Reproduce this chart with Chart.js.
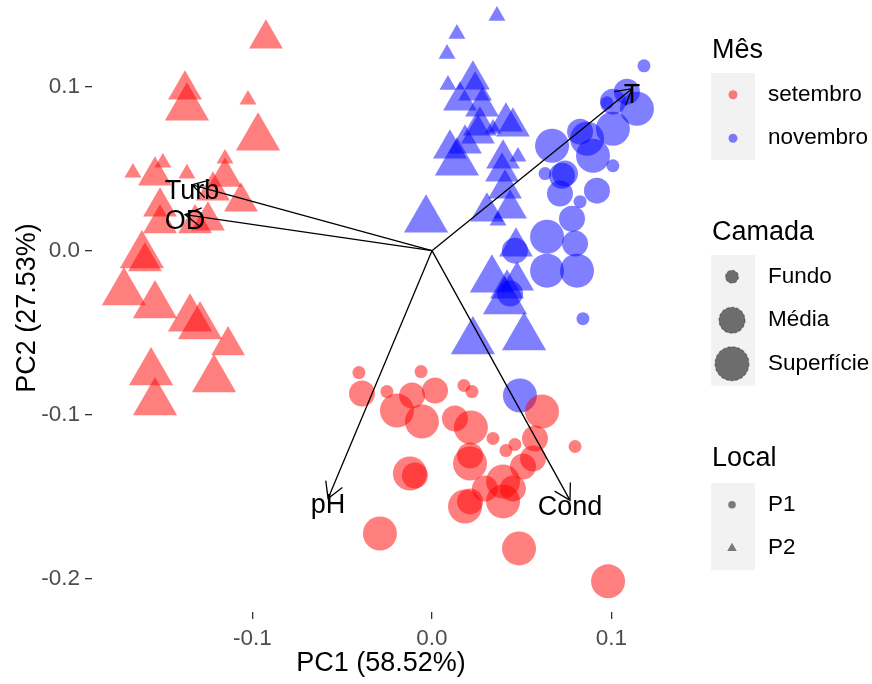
<!DOCTYPE html>
<html>
<head>
<meta charset="utf-8">
<title>PCA biplot</title>
<script src="https://cdn.jsdelivr.net/npm/chart.js@4.4.1/dist/chart.umd.min.js"></script>
<style>
  html, body { margin: 0; padding: 0; background: #ffffff; }
</style>
</head>
<body>
<canvas id="pca" width="872" height="684"></canvas>
<script>
// factor levels
const mesLevels = ["setembro", "novembro"];
const camadaLevels = ["Fundo", "Média", "Superfície"];
const localLevels = ["P1", "P2"];

// scores: [PC1, PC2, camada index]
const setembroP1 = [
  [-0.0407, -0.0744, 0], [-0.0390, -0.0872, 1], [-0.0251, -0.0860, 0], [-0.0195, -0.0976, 2],
  [-0.0111, -0.0884, 1], [-0.0056, -0.1043, 2], [0.0017, -0.0854, 1], [-0.0061, -0.0738, 0],
  [0.0178, -0.0823, 0], [0.0223, -0.0860, 0], [0.0128, -0.1024, 1], [0.0217, -0.1079, 2],
  [0.0340, -0.1146, 0], [0.0412, -0.1220, 0], [0.0462, -0.1183, 0], [0.0574, -0.1146, 1],
  [0.0613, -0.0982, 2], [0.0797, -0.1195, 0], [0.0212, -0.1250, 1], [-0.0123, -0.1360, 2],
  [-0.0095, -0.1372, 1], [0.0212, -0.1299, 2], [0.0563, -0.1268, 1], [0.0396, -0.1409, 2],
  [0.0451, -0.1451, 1], [0.0295, -0.1451, 1], [0.0212, -0.1530, 1], [0.0184, -0.1561, 2],
  [0.0396, -0.1530, 2], [-0.0290, -0.1726, 2], [0.0485, -0.1817, 2], [0.0981, -0.2018, 2],
  [0.0507, -0.1317, 1]
];
const setembroP2 = [
  [-0.0925, 0.1293, 1], [-0.1376, 0.0982, 1], [-0.1365, 0.0872, 2], [-0.1025, 0.0921, 0],
  [-0.0969, 0.0689, 2], [-0.1666, 0.0476, 0], [-0.1543, 0.0457, 1], [-0.1499, 0.0537, 0],
  [-0.1365, 0.0470, 0], [-0.1153, 0.0561, 0], [-0.1153, 0.0450, 1], [-0.1064, 0.0299, 1],
  [-0.1220, 0.0366, 1], [-0.1248, 0.0183, 1], [-0.1515, 0.0268, 1], [-0.1515, 0.0165, 1],
  [-0.1320, 0.0165, 1], [-0.1616, -0.0030, 2], [-0.1599, -0.0067, 1], [-0.1716, -0.0256, 2],
  [-0.1543, -0.0335, 2], [-0.1348, -0.0415, 2], [-0.1292, -0.0463, 2], [-0.1136, -0.0579, 1],
  [-0.1214, -0.0787, 2], [-0.1565, -0.0744, 2], [-0.1543, -0.0927, 2]
];
const novembroP1 = [
  [0.1181, 0.1128, 0], [0.1086, 0.0970, 1], [0.1142, 0.0866, 2], [0.1008, 0.0909, 1],
  [0.0975, 0.0902, 0], [0.1008, 0.0744, 2], [0.0864, 0.0683, 2], [0.0825, 0.0726, 1],
  [0.0669, 0.0640, 2], [0.0897, 0.0579, 2], [0.1008, 0.0518, 0], [0.0741, 0.0470, 1],
  [0.0724, 0.0457, 1], [0.0630, 0.0470, 0], [0.0919, 0.0366, 1], [0.0713, 0.0348, 1],
  [0.0825, 0.0299, 0], [0.0780, 0.0195, 1], [0.0641, 0.0085, 2], [0.0797, 0.0043, 1],
  [0.0641, -0.0122, 2], [0.0808, -0.0122, 2], [0.0841, -0.0415, 0], [0.0490, -0.0884, 2],
  [0.0462, 0.0000, 1], [0.0435, -0.0262, 1]
];
const novembroP2 = [
  [0.0362, 0.1433, 0], [0.0139, 0.1323, 0], [0.0084, 0.1201, 0], [0.0228, 0.1043, 1],
  [0.0089, 0.1012, 0], [0.0240, 0.0976, 1], [0.0156, 0.0915, 1], [0.0267, 0.0762, 1],
  [0.0412, 0.0787, 1], [0.0451, 0.0756, 1], [0.0139, 0.0537, 2], [0.0100, 0.0622, 1],
  [0.0184, 0.0652, 1], [0.0256, 0.0713, 1], [0.0340, 0.0744, 0], [0.0396, 0.0561, 1],
  [0.0390, 0.0482, 1], [0.0479, 0.0573, 0], [0.0407, 0.0378, 1], [0.0435, 0.0256, 1],
  [0.0306, 0.0238, 1], [0.0368, 0.0183, 0], [-0.0033, 0.0189, 2], [0.0468, 0.0024, 1],
  [0.0334, -0.0177, 2], [0.0418, -0.0232, 1], [0.0474, -0.0183, 1], [0.0407, -0.0311, 2],
  [0.0513, -0.0530, 2], [0.0228, -0.0555, 2], [0.0279, 0.0878, 1]
];

// loadings (arrows)
const loadingNames = ["Turb", "OD", "T", "pH", "Cond"];
const loadingPC1 = [-0.1337, -0.1376, 0.1114, -0.0579, 0.0769];
const loadingPC2 = [0.0402, 0.0220, 0.0988, -0.1512, -0.1524];

// axes
const xTickValues = [-0.1, 0, 0.1];
const xTickLabels = ["-0.1", "0.0", "0.1"];
const yTickValues = [-0.2, -0.1, 0, 0.1];
const yTickLabels = ["-0.2", "-0.1", "0.0", "0.1"];

const FONT = "'Liberation Sans', Arial, sans-serif";
const mesColors = ["rgba(255, 0, 0, 0.5)", "rgba(0, 0, 255, 0.5)"];
const circleRadius = [6.5, 13, 17];
const triangleRadius = circleRadius.map((r) => r * 1.5);

Chart.defaults.font.family = FONT;

function toPoints(rows) {
  return rows.map((r) => ({ x: r[0], y: r[1], c: r[2] }));
}

function pointSet(rows, mes, local) {
  const sizes = local === 0 ? circleRadius : triangleRadius;
  return {
    label: mesLevels[mes] + " " + localLevels[local],
    data: toPoints(rows),
    backgroundColor: mesColors[mes],
    borderWidth: 0,
    pointStyle: local === 0 ? "circle" : "triangle",
    pointRadius: (ctx) => sizes[ctx.raw ? ctx.raw.c : 0],
    pointHoverRadius: (ctx) => sizes[ctx.raw ? ctx.raw.c : 0]
  };
}

function drawArrow(ctx, x0, y0, x1, y1) {
  const ang = Math.atan2(y1 - y0, x1 - x0);
  const len = 18;
  const spread = Math.PI / 6;
  ctx.beginPath();
  ctx.moveTo(x0, y0);
  ctx.lineTo(x1, y1);
  ctx.moveTo(x1 - len * Math.cos(ang - spread), y1 - len * Math.sin(ang - spread));
  ctx.lineTo(x1, y1);
  ctx.lineTo(x1 - len * Math.cos(ang + spread), y1 - len * Math.sin(ang + spread));
  ctx.stroke();
}

const loadingsPlugin = {
  id: "loadings",
  afterDatasetsDraw(chart) {
    const { ctx, scales } = chart;
    const ox = scales.x.getPixelForValue(0);
    const oy = scales.y.getPixelForValue(0);
    ctx.save();
    ctx.strokeStyle = "#000";
    ctx.lineWidth = 1.3;
    loadingNames.forEach((name, i) => {
      const tx = scales.x.getPixelForValue(loadingPC1[i]);
      const ty = scales.y.getPixelForValue(loadingPC2[i]);
      drawArrow(ctx, ox, oy, tx, ty);
    });
    ctx.fillStyle = "#000";
    ctx.font = "27px " + FONT;
    ctx.textAlign = "center";
    ctx.textBaseline = "middle";
    loadingNames.forEach((name, i) => {
      const tx = scales.x.getPixelForValue(loadingPC1[i]);
      const ty = scales.y.getPixelForValue(loadingPC2[i]);
      ctx.fillText(name, tx, ty + 7);
    });
    ctx.restore();
  }
};

const legendPlugin = {
  id: "ggLegend",
  afterDraw(chart) {
    const ctx = chart.ctx;
    const keyX = 711, keyW = 44, keyH = 43.5, labelX = 768;
    const cx = keyX + keyW / 2;
    ctx.save();

    function title(text, y) {
      ctx.fillStyle = "#000";
      ctx.font = "27px " + FONT;
      ctx.textAlign = "left";
      ctx.textBaseline = "middle";
      ctx.fillText(text, 712, y);
    }
    function label(text, y) {
      ctx.fillStyle = "#000";
      ctx.font = "22.5px " + FONT;
      ctx.textAlign = "left";
      ctx.textBaseline = "middle";
      ctx.fillText(text, labelX, y);
    }
    function keys(top, n) {
      ctx.fillStyle = "#F2F2F2";
      ctx.fillRect(keyX, top, keyW, keyH * n);
    }
    function dot(x, y, r, fill) {
      ctx.beginPath();
      ctx.arc(x, y, r, 0, Math.PI * 2);
      ctx.fillStyle = fill;
      ctx.fill();
    }

    // Mês
    title("Mês", 51);
    keys(73, mesLevels.length);
    mesLevels.forEach((m, i) => {
      const y = 73 + keyH * (i + 0.5);
      dot(cx, y, 4.5, mesColors[i]);
      label(m, y);
    });

    // Camada
    title("Camada", 233);
    keys(255, camadaLevels.length);
    camadaLevels.forEach((c, i) => {
      const y = 255 + keyH * (i + 0.5);
      dot(cx - 1, y, circleRadius[i], "rgba(0, 0, 0, 0.55)");
      ctx.setLineDash([3, 2]);
      ctx.strokeStyle = "rgba(0, 0, 0, 0.35)";
      ctx.lineWidth = 1.2;
      ctx.stroke();
      ctx.setLineDash([]);
      label(c, y);
    });

    // Local
    title("Local", 459);
    keys(483, localLevels.length);
    localLevels.forEach((l, i) => {
      const y = 483 + keyH * (i + 0.5);
      if (i === 0) {
        dot(cx - 1, y, 3.8, "rgba(0, 0, 0, 0.5)");
      } else {
        const r = 5.5;
        ctx.beginPath();
        ctx.moveTo(cx - 1, y - r);
        ctx.lineTo(cx - 1 + 0.866 * r, y + 0.5 * r);
        ctx.lineTo(cx - 1 - 0.866 * r, y + 0.5 * r);
        ctx.closePath();
        ctx.fillStyle = "rgba(0, 0, 0, 0.5)";
        ctx.fill();
      }
      label(l, y);
    });

    ctx.restore();
  }
};

const axisGrid = {
  display: true,
  drawOnChartArea: false,
  drawTicks: true,
  tickLength: 7,
  tickColor: "#333333",
  lineWidth: 1.3
};

new Chart(document.getElementById("pca"), {
  type: "scatter",
  data: {
    datasets: [
      pointSet(setembroP1, 0, 0),
      pointSet(setembroP2, 0, 1),
      pointSet(novembroP1, 1, 0),
      pointSet(novembroP2, 1, 1)
    ]
  },
  options: {
    responsive: false,
    animation: false,
    layout: { autoPadding: false, padding: { top: 4, right: 202, bottom: 0, left: 0 } },
    plugins: {
      legend: { display: false },
      title: { display: false },
      tooltip: { enabled: false }
    },
    scales: {
      x: {
        type: "linear",
        min: -0.1894,
        max: 0.1326,
        grid: axisGrid,
        border: { display: false },
        afterBuildTicks: (scale) => { scale.ticks = xTickValues.map((v) => ({ value: v })); },
        afterFit: (scale) => {
          scale.height = 72;
          scale.paddingLeft = 0;
          scale.paddingRight = 0;
        },
        ticks: {
          color: "#4D4D4D",
          font: { size: 22.5 },
          padding: 6,
          maxRotation: 0,
          autoSkip: false,
          callback: (value, index) => xTickLabels[index]
        },
        title: {
          display: true,
          text: "PC1 (58.52%)",
          color: "#000",
          font: { size: 27 },
          padding: { top: 0, bottom: 4 }
        }
      },
      y: {
        type: "linear",
        min: -0.2205,
        max: 0.1505,
        grid: axisGrid,
        border: { display: false },
        afterBuildTicks: (scale) => { scale.ticks = yTickValues.map((v) => ({ value: v })); },
        afterFit: (scale) => {
          scale.width = 92;
          scale.paddingTop = 0;
          scale.paddingBottom = 0;
        },
        ticks: {
          color: "#4D4D4D",
          font: { size: 22.5 },
          padding: 5,
          autoSkip: false,
          callback: (value, index) => yTickLabels[index]
        },
        title: {
          display: true,
          text: "PC2 (27.53%)",
          color: "#000",
          font: { size: 27 },
          padding: { top: 11, bottom: 0 }
        }
      }
    }
  },
  plugins: [loadingsPlugin, legendPlugin]
});
</script>
</body>
</html>
